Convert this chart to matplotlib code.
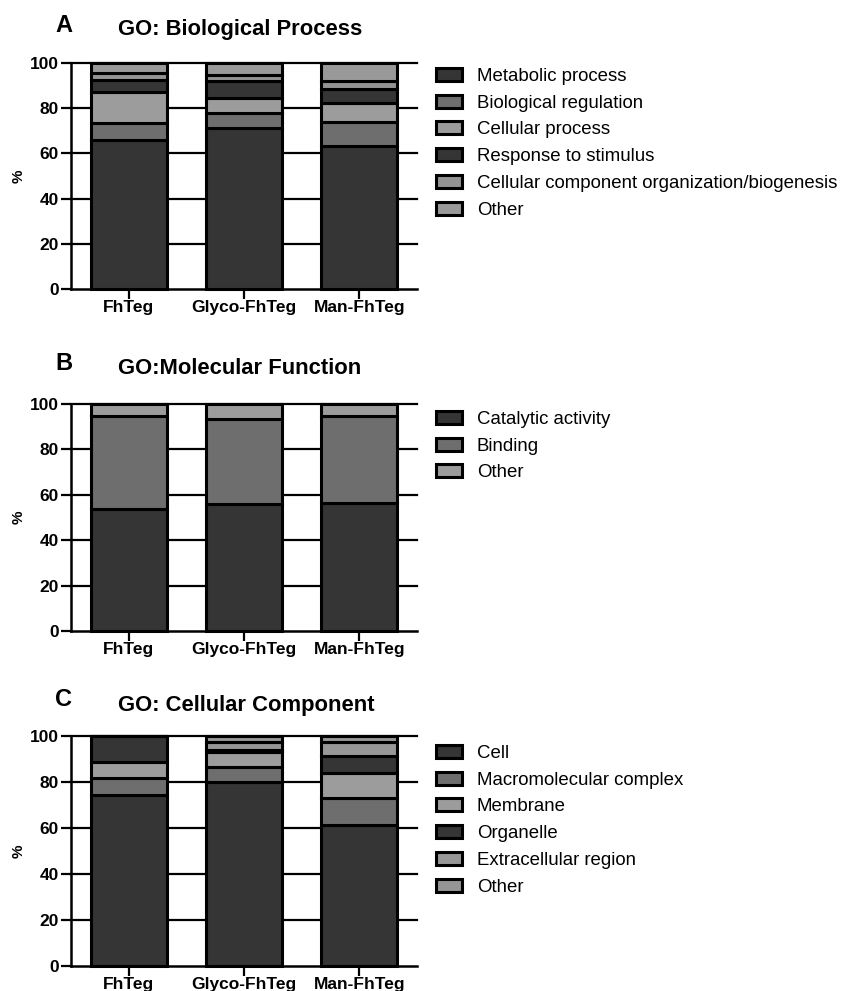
import numpy as np
import matplotlib
matplotlib.use("Agg")
import matplotlib.pyplot as plt

plt.rcParams['font.family'] = ['Liberation Sans', 'DejaVu Sans']

# Samples on the x axis
samples = ["FhTeg", "Glyco-FhTeg", "Man-FhTeg"]

# A - biological process (% per sample, stacked bottom to top)
bp_labels = ["Metabolic process", "Biological regulation", "Cellular process",
             "Response to stimulus", "Cellular component organization/biogenesis", "Other"]
bp_values = [
    [66.0, 71.0, 63.2],
    [7.5, 6.6, 10.8],
    [13.5, 6.8, 8.0],
    [5.5, 7.4, 6.3],
    [3.0, 2.8, 3.7],
    [4.5, 5.4, 8.0],
]

# B - molecular function
mf_labels = ["Catalytic activity", "Binding", "Other"]
mf_values = [
    [53.6, 55.8, 56.2],
    [41.1, 37.6, 38.5],
    [5.3, 6.6, 5.3],
]

# C - cellular component
cc_labels = ["Cell", "Macromolecular complex", "Membrane", "Organelle",
             "Extracellular region", "Other"]
cc_values = [
    [74.5, 80.1, 61.5],
    [7.4, 6.6, 11.5],
    [6.8, 6.5, 11.0],
    [11.3, 0.8, 7.5],
    [0.0, 3.2, 5.8],
    [0.0, 2.8, 2.7],
]

DARK = "#353535"
MID = "#6e6e6e"
LIGHT = "#9c9c9c"
bp_colors = [DARK, MID, LIGHT, DARK, "#939393", "#999999"]
mf_colors = [DARK, MID, LIGHT]
cc_colors = [DARK, MID, LIGHT, DARK, "#979797", "#959595"]

W, H = 841, 991
fig = plt.figure(figsize=(W / 100, H / 100), dpi=100)


def px(x, y):
    return x / W, 1 - y / H


panels = [
    ("A", "GO: Biological Process", bp_labels, bp_values, bp_colors, 62.7, 289.3, 25, 29, 68),
    ("B", "GO:Molecular Function", mf_labels, mf_values, mf_colors, 404, 631, 363, 369, 411),
    ("C", "GO: Cellular Component", cc_labels, cc_values, cc_colors, 736, 966, 700, 705, 745),
]

for letter, title, labels, values, colors, ytop, ybot, yl, yt, yleg in panels:
    left, bottom = px(71, ybot)
    ax = fig.add_axes([left, bottom, (417 - 71) / W, (ybot - ytop) / H])
    x = np.arange(len(samples))
    base = np.zeros(len(samples))
    for lab, vals, col in zip(labels, values, colors):
        ax.bar(x, vals, bottom=base, width=0.66, color=col, edgecolor="black",
               linewidth=2.2, label=lab, zorder=3, clip_on=False)
        base = base + np.array(vals)

    for yv in range(20, 101, 20):
        ax.axhline(yv, color="black", lw=1.6, zorder=0, clip_on=False)

    ax.set_xlim(-0.5, 2.5)
    ax.set_ylim(0, 100)
    ax.set_yticks(range(0, 101, 20))
    ax.set_xticks(x)
    ax.set_xticklabels(samples, fontsize=12.5, fontweight="bold")
    for t in ax.get_yticklabels():
        t.set_fontsize(12.5)
        t.set_fontweight("bold")
    ax.tick_params(axis="both", direction="out", length=7, width=1.6, color="black", pad=2)
    ax.tick_params(axis="x", pad=1)
    ax.spines["top"].set_visible(False)
    ax.spines["right"].set_visible(False)
    ax.spines["left"].set_linewidth(1.8)
    ax.spines["bottom"].set_linewidth(1.8)
    ax.spines["left"].set_zorder(1)
    ax.set_ylabel("%", fontsize=11, fontweight="bold", labelpad=3)

    fx, fy = px(55, yl)
    fig.text(fx, fy, letter, fontsize=17, fontweight="bold", ha="left", va="center")
    fx, fy = px(118, yt)
    fig.text(fx, fy, title, fontsize=15.8, fontweight="bold", ha="left", va="center")

    lx, ly = px(436, yleg)
    ax.legend(loc="upper left", bbox_to_anchor=(lx, ly), bbox_transform=fig.transFigure,
              frameon=False, fontsize=13.4, handlelength=1.4, handleheight=0.7,
              handletextpad=0.8, labelspacing=0.52, borderpad=0, borderaxespad=0)

fig.savefig("out.png", dpi=100)
